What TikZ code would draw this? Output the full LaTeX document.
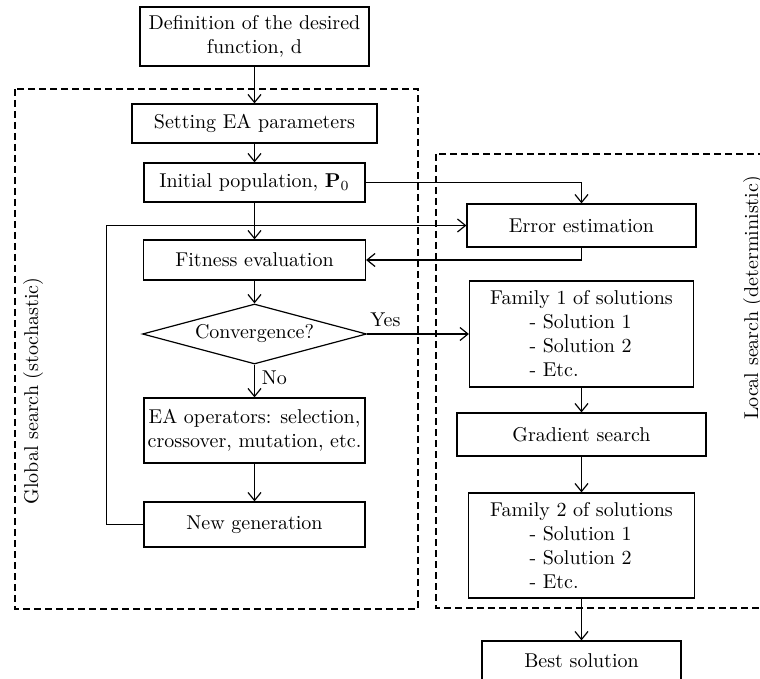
\documentclass[tikz,border=0pt]{standalone}
\usepackage{tikz}
\usetikzlibrary{shapes.geometric,arrows.meta}

\newcommand{\solline}[1]{\makebox[52pt][l]{#1}}

\tikzset{
  block/.style={draw, line width=0.6pt, align=center, inner sep=1pt},
  decision/.style={draw, diamond, aspect=3.7, line width=0.6pt, inner sep=0pt},
  groupbox/.style={draw, line width=0.6pt, dash pattern=on 3.5pt off 2pt},
  link/.style={-{Straight Barb[length=4pt,width=6.5pt]}, line width=0.6pt},
}

\begin{document}
\begin{tikzpicture}[x=0.5pt,y=-0.5pt]
  \useasboundingbox (0,0) rectangle (760,679);
  \begin{scope}
    \clip (0,0) rectangle (760,679);

    % dashed search regions
    \draw[groupbox] (15,89) rectangle (418,609);
    \draw[groupbox] (436,154) rectangle (790,608);
    \node[rotate=90] (globallbl) at (33,391) {Global search (stochastic)};
    \node[rotate=90] (locallbl) at (753,298) {Local search (deterministic)};

    % global search column
    \node[block, minimum width=114.5pt, minimum height=29.5pt] (def) at (254.5,36.5) {Definition of the desired\\function, d};
    \node[block, minimum width=122.5pt, minimum height=19.5pt] (setting) at (254.5,123.5) {Setting EA parameters};
    \node[block, minimum width=110.5pt, minimum height=19.5pt] (init) at (254.5,182.5) {Initial population, $\mathbf{P}_0$};
    \node[block, minimum width=111pt, minimum height=20pt] (fitness) at (254.5,260) {Fitness evaluation};
    \node[decision, minimum width=112pt, minimum height=30pt] (conv) at (254.5,334) {Convergence?};
    \node[block, minimum width=110.5pt, minimum height=32.5pt] (eaops) at (254.5,430.5) {EA operators: selection,\\crossover, mutation, etc.};
    \node[block, minimum width=110.5pt, minimum height=22.5pt] (newgen) at (254.5,524.5) {New generation};

    % local search column
    \node[block, minimum width=114.5pt, minimum height=21.5pt] (error) at (581.5,225.5) {Error estimation};
    \node[block, minimum width=112pt, minimum height=53pt] (fam1) at (581.5,334) {Family 1 of solutions\\\solline{- Solution 1}\\\solline{- Solution 2}\\\solline{- Etc.}};
    \node[block, minimum width=124.5pt, minimum height=21.5pt] (gradient) at (581.5,434.5) {Gradient search};
    \node[block, minimum width=113pt, minimum height=52.5pt] (fam2) at (581.5,545.5) {Family 2 of solutions\\\solline{- Solution 1}\\\solline{- Solution 2}\\\solline{- Etc.}};
    \node[block, minimum width=99.5pt, minimum height=20pt] (best) at (581.5,661) {Best solution};

    % connectors
    \draw[link] (def) -- (setting);
    \draw[link] (setting) -- (init);
    \draw[link] (init) -- (fitness);
    \draw[link] (fitness) -- (conv);
    \draw[link] (conv) -- node[right, pos=0.4] {No} (eaops);
    \draw[link] (eaops) -- (newgen);
    \draw[link] (newgen.west) -- ++(-37,0) |- (error.west);
    \draw[link] (init.east) -| (error.north);
    \draw[link] (error.south) |- (fitness.east);
    \draw[link] (conv.east) -- node[above, pos=0.18] {Yes} (fam1.west);
    \draw[link] (fam1) -- (gradient);
    \draw[link] (gradient) -- (fam2);
    \draw[link] (fam2) -- (best);
  \end{scope}
\end{tikzpicture}
\end{document}
